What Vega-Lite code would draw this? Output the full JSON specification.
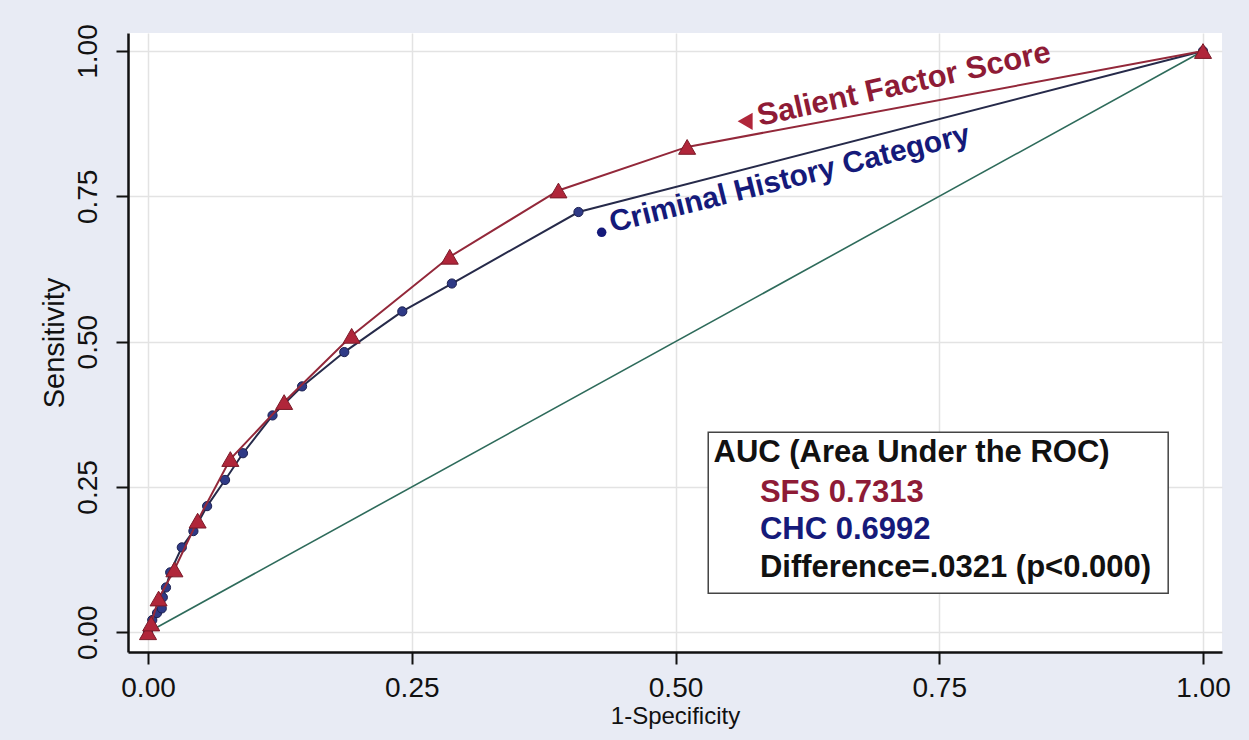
{
  "$schema": "https://vega.github.io/schema/vega-lite/v6.json",
  "width": 1094,
  "height": 619,
  "autosize": {"type": "none"},
  "padding": {"left": 128, "top": 33, "right": 27, "bottom": 88},
  "background": "#e8ebf4",
  "config": {
    "view": {"fill": "white", "stroke": null},
    "font": "Liberation Sans",
    "axis": {
      "labelFont": "Liberation Sans",
      "titleFont": "Liberation Sans",
      "labelFontSize": 28,
      "titleFontSize": 24,
      "titleFontWeight": "normal",
      "labelColor": "#111",
      "titleColor": "#111",
      "domainColor": "#111",
      "domainWidth": 2.5,
      "tickColor": "#111",
      "tickWidth": 2,
      "tickSize": 12,
      "gridColor": "#e3e3e3",
      "gridWidth": 1.5
    }
  },
  "datasets": {
    "diag": [{"x": 0, "y": 0}, {"x": 1, "y": 1}],
    "sfs": [
      {"x": 0, "y": 0}, {"x": 0.003, "y": 0.015}, {"x": 0.01, "y": 0.058},
      {"x": 0.025, "y": 0.108}, {"x": 0.047, "y": 0.192}, {"x": 0.078, "y": 0.298},
      {"x": 0.129, "y": 0.396}, {"x": 0.193, "y": 0.51}, {"x": 0.286, "y": 0.646},
      {"x": 0.389, "y": 0.76}, {"x": 0.511, "y": 0.835}, {"x": 1, "y": 1}
    ],
    "chc": [
      {"x": 0, "y": 0}, {"x": 0.004, "y": 0.021}, {"x": 0.0085, "y": 0.033},
      {"x": 0.013, "y": 0.041}, {"x": 0.014, "y": 0.06}, {"x": 0.017, "y": 0.077},
      {"x": 0.021, "y": 0.103}, {"x": 0.032, "y": 0.146}, {"x": 0.043, "y": 0.174},
      {"x": 0.056, "y": 0.217}, {"x": 0.073, "y": 0.262}, {"x": 0.09, "y": 0.308},
      {"x": 0.118, "y": 0.373}, {"x": 0.146, "y": 0.423}, {"x": 0.186, "y": 0.482},
      {"x": 0.241, "y": 0.552}, {"x": 0.288, "y": 0.6}, {"x": 0.408, "y": 0.723},
      {"x": 1, "y": 1}
    ],
    "box": [{"x": 0.531, "x2": 0.967, "y": 0.344, "y2": 0.067}],
    "boxtext": [
      {"x": 0.536, "y": 0.308, "label": "AUC (Area Under the ROC)", "grp": "head"},
      {"x": 0.58, "y": 0.24, "label": "SFS  0.7313", "grp": "sfs"},
      {"x": 0.58, "y": 0.176, "label": "CHC  0.6992", "grp": "chc"},
      {"x": 0.58, "y": 0.11, "label": "Difference=.0321 (p<0.000)", "grp": "head"}
    ],
    "sfslab": [{"x": 0.566, "y": 0.879, "tx": 0.578, "ty": 0.886, "label": "Salient Factor Score"}],
    "chclab": [{"x": 0.43, "y": 0.688, "tx": 0.438, "ty": 0.703, "label": "Criminal History Category"}]
  },
  "layer": [
    {
      "data": {"name": "diag"},
      "mark": {"type": "line", "color": "#2e6b5b", "strokeWidth": 1.6},
      "encoding": {
        "x": {
          "field": "x", "type": "quantitative",
          "scale": {"domain": [-0.019, 1.018], "nice": false, "zero": false},
          "axis": {"values": [0, 0.25, 0.5, 0.75, 1], "format": ".2f", "title": "1-Specificity", "labelPadding": 10, "titlePadding": 2}
        },
        "y": {
          "field": "y", "type": "quantitative",
          "scale": {"domain": [-0.034, 1.031], "nice": false, "zero": false},
          "axis": {"values": [0, 0.25, 0.5, 0.75, 1], "format": ".2f", "title": "Sensitivity", "titleFontSize": 29, "labelAngle": 270, "labelAlign": "center", "labelBaseline": "bottom", "labelPadding": 14, "titlePadding": 5}
        }
      }
    },
    {
      "data": {"name": "chc"},
      "mark": {"type": "line", "color": "#262a4a", "strokeWidth": 2},
      "encoding": {
        "x": {"field": "x", "type": "quantitative"},
        "y": {"field": "y", "type": "quantitative"}
      }
    },
    {
      "data": {"name": "chc"},
      "mark": {"type": "point", "shape": "circle", "filled": true, "size": 85, "color": "#2f3a86", "stroke": "#1c2050", "strokeWidth": 1, "opacity": 1},
      "encoding": {
        "x": {"field": "x", "type": "quantitative"},
        "y": {"field": "y", "type": "quantitative"}
      }
    },
    {
      "data": {"name": "sfs"},
      "mark": {"type": "line", "color": "#93283a", "strokeWidth": 2},
      "encoding": {
        "x": {"field": "x", "type": "quantitative"},
        "y": {"field": "y", "type": "quantitative"}
      }
    },
    {
      "data": {"name": "sfs"},
      "mark": {"type": "point", "shape": "triangle-up", "filled": true, "size": 290, "color": "#b0263a", "stroke": "#7a1a28", "strokeWidth": 1, "opacity": 1},
      "encoding": {
        "x": {"field": "x", "type": "quantitative"},
        "y": {"field": "y", "type": "quantitative"}
      }
    },
    {
      "data": {"name": "sfslab"},
      "mark": {"type": "point", "shape": "triangle-left", "filled": true, "size": 300, "color": "#b0263a", "opacity": 1},
      "encoding": {
        "x": {"field": "x", "type": "quantitative"},
        "y": {"field": "y", "type": "quantitative"}
      }
    },
    {
      "data": {"name": "sfslab"},
      "mark": {"type": "text", "align": "left", "baseline": "middle", "angle": 347.5, "font": "Liberation Sans", "fontWeight": "bold", "fontSize": 31, "color": "#8e1b36"},
      "encoding": {
        "x": {"field": "tx", "type": "quantitative"},
        "y": {"field": "ty", "type": "quantitative"},
        "text": {"field": "label"}
      }
    },
    {
      "data": {"name": "chclab"},
      "mark": {"type": "point", "shape": "circle", "filled": true, "size": 90, "color": "#151a7a", "opacity": 1},
      "encoding": {
        "x": {"field": "x", "type": "quantitative"},
        "y": {"field": "y", "type": "quantitative"}
      }
    },
    {
      "data": {"name": "chclab"},
      "mark": {"type": "text", "align": "left", "baseline": "middle", "angle": 346, "font": "Liberation Sans", "fontWeight": "bold", "fontSize": 30, "color": "#151a7a"},
      "encoding": {
        "x": {"field": "tx", "type": "quantitative"},
        "y": {"field": "ty", "type": "quantitative"},
        "text": {"field": "label"}
      }
    },
    {
      "data": {"name": "box"},
      "mark": {"type": "rect", "fill": "white", "stroke": "#444", "strokeWidth": 1.5},
      "encoding": {
        "x": {"field": "x", "type": "quantitative"},
        "x2": {"field": "x2"},
        "y": {"field": "y", "type": "quantitative"},
        "y2": {"field": "y2"}
      }
    },
    {
      "data": {"name": "boxtext"},
      "mark": {"type": "text", "align": "left", "baseline": "middle", "font": "Liberation Sans", "fontWeight": "bold", "fontSize": 31},
      "encoding": {
        "x": {"field": "x", "type": "quantitative"},
        "y": {"field": "y", "type": "quantitative"},
        "text": {"field": "label"},
        "color": {
          "field": "grp", "type": "nominal",
          "scale": {"domain": ["head", "sfs", "chc"], "range": ["#111111", "#8e1b36", "#151a7a"]},
          "legend": null
        }
      }
    }
  ]
}
